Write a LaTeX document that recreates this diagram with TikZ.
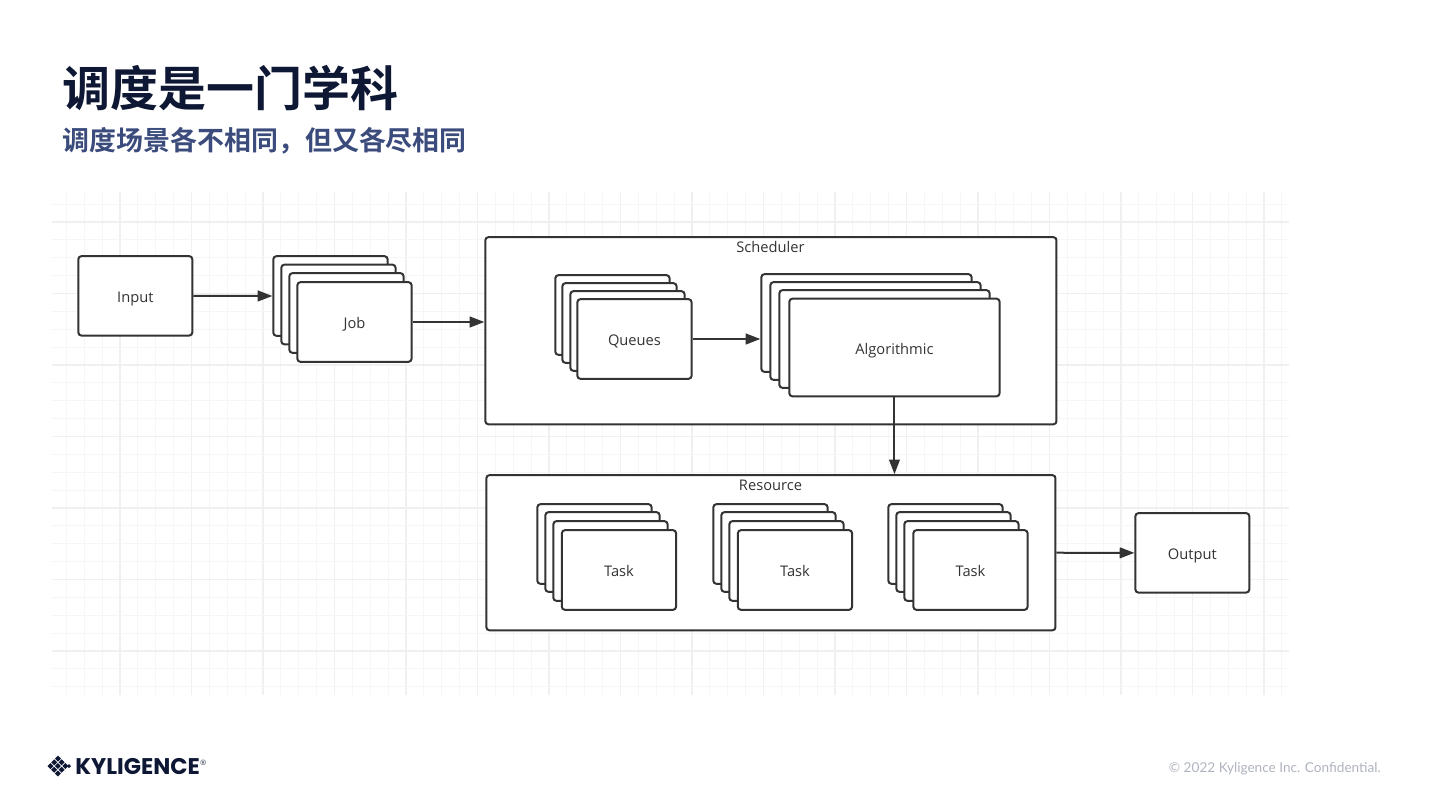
\documentclass[tikz,border=0pt]{standalone}
\usepackage{fontspec}
\setmainfont{Open Sans}
\newfontfamily\cjkbold[BoldFont={Noto Sans CJK SC Bold}]{Noto Sans CJK SC}
\newfontfamily\logofont{Poppins}
\newfontfamily\footfont{Lato}
\usetikzlibrary{arrows.meta}
\definecolor{ink}{HTML}{333333}
\definecolor{titlecol}{HTML}{0E1733}
\definecolor{subcol}{HTML}{3A4B7C}
\definecolor{gridminor}{HTML}{F6F6F6}
\definecolor{gridmajor}{HTML}{F0F0F0}
\definecolor{footcol}{HTML}{B0B4C0}
\newcommand{\lbl}[1]{\raisebox{-2.2pt}[0.75em][0.25em]{#1}}
\tikzset{
  box/.style={draw=ink,line width=1.5pt,fill=white,rounded corners=2.2pt,inner sep=0pt,text=ink,font=\fontsize{11pt}{13pt}\selectfont},
  flow/.style={draw=ink,line width=1.5pt,-{Triangle[length=11pt,width=8pt]}},
  boxlabel/.style={text=ink,inner sep=0pt,font=\fontsize{11pt}{13pt}\selectfont},
  gmin/.style={draw=gridminor,line width=0.75pt},
  gmaj/.style={draw=gridmajor,line width=0.9pt},
  card/.style={box,anchor=north west,minimum width=85.6pt,minimum height=59.7pt},
  bigcard/.style={box,anchor=north west,minimum width=157.6pt,minimum height=73.2pt},
  io/.style={box,anchor=north west,minimum width=85.4pt,minimum height=59.5pt}
}
\begin{document}
\begin{tikzpicture}[x=0.75pt,y=-0.75pt]
\useasboundingbox (0,0) rectangle (1440,810);
\fill[white] (0,0) rectangle (1440,810);
% grid
\foreach \i in {0,...,68}{
  \pgfmathsetmacro{\xx}{66.4+17.875*\i}
  \pgfmathtruncatemacro{\mm}{mod(\i,4)}
  \ifnum\mm=3 \draw[gmaj] (\xx,192) -- (\xx,695); \else \draw[gmin] (\xx,192) -- (\xx,695); \fi
}
\foreach \i in {0,...,27}{
  \pgfmathsetmacro{\yy}{204.1+17.875*\i}
  \pgfmathtruncatemacro{\mm}{mod(\i,4)}
  \ifnum\mm=1 \draw[gmaj] (52,\yy) -- (1289,\yy); \else \draw[gmin] (52,\yy) -- (1289,\yy); \fi
}
% title
\node[anchor=west,inner sep=0pt,text=titlecol,font=\cjkbold\bfseries\fontsize{36pt}{40pt}\selectfont] (title) at (62.5,88) {调度是一门学科};
\node[anchor=west,inner sep=0pt,text=subcol,font=\cjkbold\bfseries\fontsize{20.2pt}{24pt}\selectfont] (subtitle) at (62.5,141) {调度场景各不相同，但又各尽相同};
\begin{scope}[shift={(-0.6,-0.8)}]
% containers
\node[box,anchor=north west,minimum width=428.3pt,minimum height=140.3pt] (sched) at (485,237) {};
\node[boxlabel] (schedl) at (771.1,247.8) {Scheduler};
\node[box,anchor=north west,minimum width=426.8pt,minimum height=116.3pt] (res) at (486,475) {};
\node[boxlabel] (resl) at (771.1,485.8) {Resource};
% input/output
\node[io] (input) at (78,256) {\lbl{Input}};
\node[io] (output) at (1135,513) {\lbl{Output}};
% job stack
\node[card] (joba) at (273,256) {};
\node[card] (jobb) at (281,264.5) {};
\node[card] (jobc) at (289,273) {};
\node[card] (jobd) at (297,282) {\lbl{Job}};
% queues
\node[card] (qa) at (555,275) {};
\node[card] (qb) at (562,283) {};
\node[card] (qc) at (570,291) {};
\node[card] (qd) at (577,299) {\lbl{Queues}};
% algorithmic
\node[bigcard] (alga) at (761,274) {};
\node[bigcard] (algb) at (770,282) {};
\node[bigcard] (algc) at (779,290) {};
\node[bigcard] (algd) at (789,298.5) {\lbl{Algorithmic}};
% tasks
\node[card] (taa) at (537,504) {};
\node[card] (tab) at (545,512) {};
\node[card] (tac) at (553,521) {};
\node[card] (tad) at (561.5,530) {\lbl{Task}};
\node[card] (tba) at (713,504) {};
\node[card] (tbb) at (721,512) {};
\node[card] (tbc) at (729,521) {};
\node[card] (tbd) at (737.5,530) {\lbl{Task}};
\node[card] (tca) at (888,504) {};
\node[card] (tcb) at (896,512) {};
\node[card] (tcc) at (904,521) {};
\node[card] (tcd) at (913,530) {\lbl{Task}};
% connectors
\draw[flow] (input.east) -- (joba.west);
\draw[flow] (jobd.east) -- (jobd.east -| sched.west);
\draw[flow] (qd.east) -- (qd.east -| alga.west);
\draw[flow] (algd.south) -- (algd.south |- res.north);
\draw[flow] (res.east) -- (output.west);
\end{scope}
% logo
\foreach \a/\b in {0/0,1/0,2/0,0/1,1/1,2/1,0/2,1/2,2/2}{
  \fill[titlecol,shift={(50.5+\a*3.7+\b*3.7,766+\a*3.7-\b*3.7)}] (0,-3) -- (3,0) -- (0,3) -- (-3,0) -- cycle;
}
\fill[titlecol] (69,764.2) -- (71,766.2) -- (69,768.2) -- (67,766.2) -- cycle;
\node[anchor=west,inner sep=0pt,text=titlecol,font=\logofont\bfseries\fontsize{17pt}{20pt}\selectfont] (logo) at (75,767) {KYLIGENCE};
\node[anchor=west,inner sep=0pt,text=titlecol!65,font=\logofont\fontsize{10pt}{12pt}\selectfont] (reg) at (199.5,764.5) {®};
\node[anchor=east,inner sep=0pt,text=footcol,font=\footfont\fontsize{10.2pt}{12pt}\selectfont] (foot) at (1381,768.5) {© 2022 Kyligence Inc. Confidential.};
\end{tikzpicture}
\end{document}
